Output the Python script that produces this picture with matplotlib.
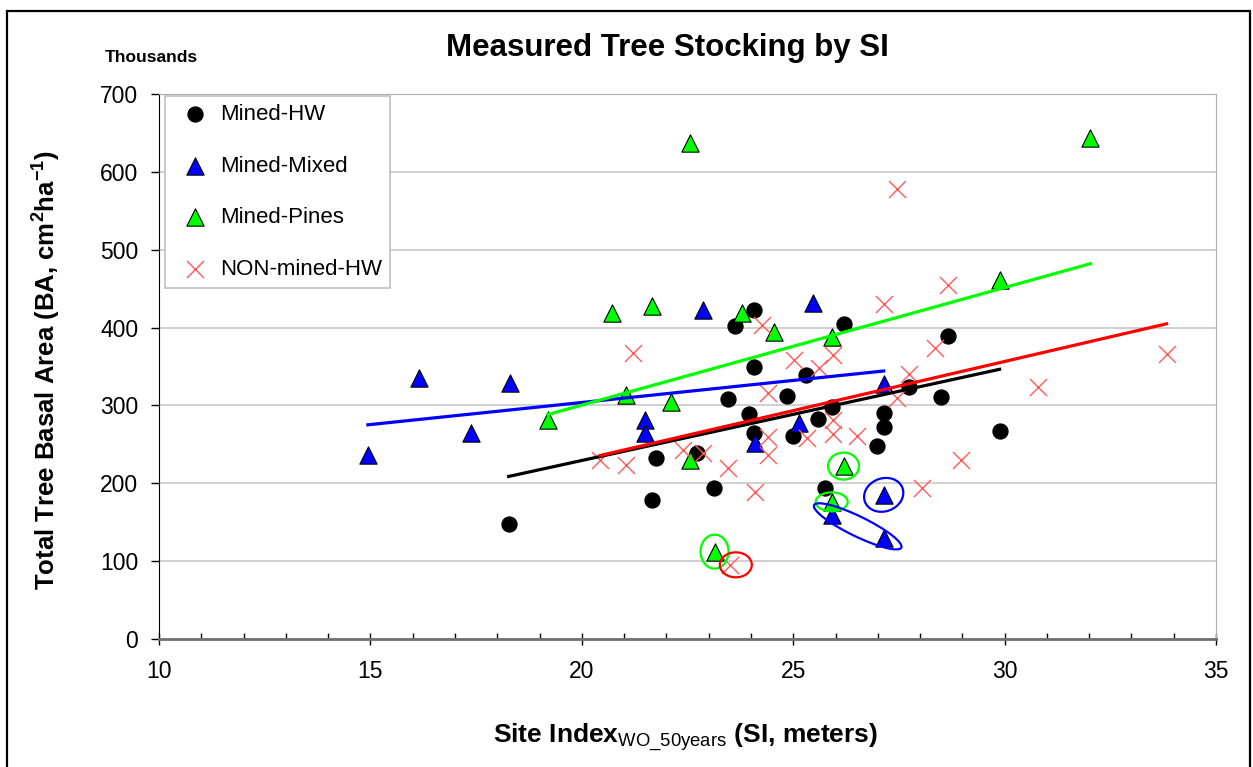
import numpy as np
import matplotlib.pyplot as plt
from matplotlib.patches import Ellipse, Rectangle
from matplotlib.transforms import ScaledTranslation

plt.rcParams['font.family'] = ['Liberation Sans', 'DejaVu Sans']
plt.rcParams['mathtext.fontset'] = 'custom'
plt.rcParams['mathtext.rm'] = 'Liberation Sans'
plt.rcParams['mathtext.bf'] = 'Liberation Sans:bold'

# Mined-HW (site index m, basal area thousands cm2/ha)
hw_si = [18.27, 21.65, 21.75, 22.72, 23.12, 23.45, 23.62, 24.07, 24.07, 23.95, 24.07, 24.85, 25.30,
         24.99, 25.58, 25.91, 26.19, 25.74, 27.14, 27.14, 26.97, 27.73, 28.65, 28.49, 29.88]
hw_ba = [147, 178, 232, 239, 194, 308, 402, 423, 349, 289, 264, 312, 339,
         261, 283, 298, 405, 194, 290, 272, 248, 324, 389, 311, 267]

# Mined-Mixed (last three are the circled plots, left out of the trendline)
mix_si = [14.94, 16.15, 17.38, 18.30, 21.49, 21.49, 22.86, 24.09, 25.13, 25.46, 27.14, 25.91, 27.14, 27.14]
mix_ba = [236, 335, 265, 329, 281, 265, 423, 252, 278, 432, 328, 159, 185, 130]
mix_in_fit = [1] * 11 + [0, 0, 0]

# Mined-Pines
pine_si = [19.20, 20.71, 21.65, 21.04, 22.10, 22.55, 22.55, 23.14, 23.78, 24.54, 25.91, 26.19, 25.91, 29.88, 32.03]
pine_ba = [281, 419, 428, 314, 305, 638, 230, 112, 419, 395, 388, 222, 176, 461, 644]

# NON-mined-HW
non_si = [20.43, 21.04, 21.21, 22.39, 22.86, 23.45, 24.09, 24.26, 24.40, 24.40, 24.40, 25.01, 25.32, 25.60,
          25.93, 25.93, 25.93, 26.52, 27.14, 27.45, 27.45, 27.73, 28.35, 28.65, 28.04, 28.96, 30.80, 33.83, 23.50]
non_ba = [230, 224, 368, 243, 239, 220, 189, 403, 316, 259, 236, 359, 258, 348,
          365, 281, 263, 261, 431, 579, 310, 341, 374, 455, 194, 230, 324, 366, 95]

fig = plt.figure(figsize=(12.53, 7.67), dpi=100)
ax = fig.add_axes([0.1269, 0.1673, 0.9705 - 0.1269, 0.8768 - 0.1673])

ax.scatter(hw_si, hw_ba, s=115, marker='o', color='black', zorder=3, label='Mined-HW')
ax.scatter(mix_si, mix_ba, s=155, marker='^', facecolor='#0000ff', edgecolor='black', linewidth=0.8,
           zorder=3, label='Mined-Mixed')
ax.scatter(pine_si, pine_ba, s=155, marker='^', facecolor='#00ff00', edgecolor='black', linewidth=0.8,
           zorder=3, label='Mined-Pines')
ax.scatter(non_si, non_ba, s=150, marker='x', color='#ff5a5a', linewidth=1.0, zorder=4, label='NON-mined-HW')

# linear trendlines over each series range
mx = np.array(mix_si)[np.array(mix_in_fit) == 1]
my = np.array(mix_ba)[np.array(mix_in_fit) == 1]
for xs, ys, c in [(hw_si, hw_ba, 'black'), (mx, my, '#0000ff'),
                  (pine_si, pine_ba, '#00ff00'), (non_si, non_ba, '#ff0000')]:
    k, b = np.polyfit(xs, ys, 1)
    xx = np.array([min(xs), max(xs)])
    ax.plot(xx, k * xx + b, color=c, linewidth=2.3, zorder=5)

# hand-drawn circles around outliers (sizes in inches)
def ring(x, y, w, h, color, angle=0, dx=0.0):
    tr = fig.dpi_scale_trans + ScaledTranslation(x, y, ax.transData)
    ax.add_patch(Ellipse((dx, 0), w, h, angle=angle, fill=False, edgecolor=color,
                         linewidth=1.6, transform=tr, zorder=6, clip_on=False))

ring(pine_si[7], pine_ba[7], 0.28, 0.34, '#00ff00')
ring(non_si[28], non_ba[28], 0.32, 0.25, '#ff0000', dx=0.06)
ring(pine_si[11], pine_ba[11], 0.31, 0.27, '#00ff00')
ring(pine_si[12], pine_ba[12], 0.32, 0.19, '#00ff00')
ring(mix_si[12], mix_ba[12], 0.33, 0.40, '#0000ff', angle=-70)
ring((mix_si[11] + mix_si[13]) / 2, (mix_ba[11] + mix_ba[13]) / 2, 0.97, 0.2, '#0000ff', angle=-26)

ax.set_xlim(10, 35)
ax.set_ylim(0, 700)
ax.set_xticks(np.arange(10, 36, 5))
ax.set_xticks(np.arange(10, 36, 1), minor=True)
ax.set_yticks(np.arange(0, 701, 100))
ax.yaxis.grid(True, color='#c8c8c8', linewidth=1.2)
ax.set_axisbelow(True)
ax.tick_params(axis='x', which='major', direction='inout', length=9, width=1, labelsize=16.5, pad=11)
ax.tick_params(axis='x', which='minor', direction='in', length=4, width=1)
ax.tick_params(axis='y', which='major', direction='out', length=6, width=1, labelsize=16.5, pad=9)
for s in ['top', 'right']:
    ax.spines[s].set_color('#b0b0b0')
ax.spines['left'].set_color('black')
ax.spines['bottom'].set_color('#707070')
ax.spines['bottom'].set_linewidth(2)

leg = ax.legend(loc='upper left', bbox_to_anchor=(0.0057, 0.997), fontsize=16, labelspacing=1.38,
                borderpad=0.35, handletextpad=0.15, fancybox=False, edgecolor='#c0c0c0',
                framealpha=1, borderaxespad=0.0, handlelength=2.0)
leg.get_frame().set_linewidth(1.2)
leg.set_zorder(7)

fig.text(0.533, 0.937, 'Measured Tree Stocking by SI', ha='center', va='center', fontsize=22.5, fontweight='bold')
fig.text(0.1205, 0.925, 'Thousands', ha='center', va='center', fontsize=12.5, fontweight='bold')
fig.text(0.036, 0.518, r'Total Tree Basal Area (BA, cm$^\mathbf{2}$ha$^\mathbf{-1}$)', rotation=90,
         ha='center', va='center', fontsize=18.5, fontweight='bold')
fig.text(0.547, 0.038, r'Site Index$_\mathrm{WO\_50years}$ (SI, meters)', ha='center', va='center',
         fontsize=19, fontweight='bold')

fig.add_artist(Rectangle((7 / 1253, -0.01), 1243 / 1253, 1.0 - 11 / 767 + 0.01, transform=fig.transFigure,
                         fill=False, edgecolor='black', linewidth=1.6))

fig.savefig('out.png', dpi=100)
